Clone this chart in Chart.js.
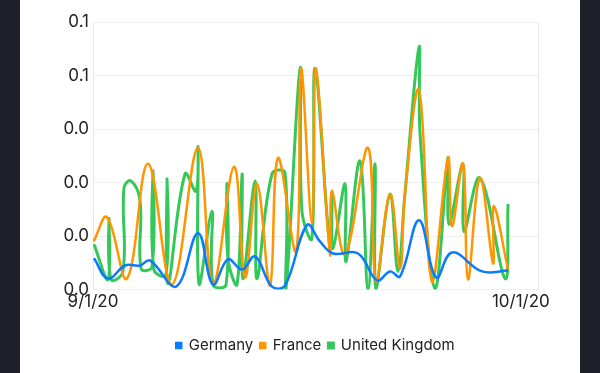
<!DOCTYPE html>
<html>
<head>
<meta charset="utf-8">
<script src="https://cdn.jsdelivr.net/npm/chart.js@4"></script>
<style>
  html, body { margin: 0; padding: 0; background: #1f1f2a; }
  body { width: 600px; height: 373px; overflow: hidden; position: relative; }
  #panel { position: absolute; left: 20px; top: 0; width: 560px; height: 373px; background: #ffffff; }
  #c { display: block; }
</style>
</head>
<body>
<div id="panel"><canvas id="c" width="560" height="373"></canvas></div>
<script>
// ---- data (x = days since 9/1/20) ----
const seriesNames = ["Germany", "France", "United Kingdom"];
const xTickLabels = ["9/1/20", "10/1/20"];
const yTickLabels = ["0.0", "0.0", "0.0", "0.0", "0.1", "0.1"];

const germanyDays = [0.07, 1.05, 2.25, 3.30, 3.99, 5.82, 7.36, 8.41, 9.46, 10.45, 11.36, 12.55, 13.46, 15.01, 15.91, 16.83, 18.58, 19.92, 20.82, 21.53, 22.86, 24.06, 25.17, 27.27, 29.10];
const germanyValues = [0.0117, 0.0041, 0.0090, 0.0090, 0.0109, 0.0011, 0.0211, 0.0019, 0.0113, 0.0075, 0.0124, 0.0011, 0.0015, 0.0241, 0.0180, 0.0135, 0.0135, 0.0034, 0.0068, 0.0049, 0.0259, 0.0045, 0.0139, 0.0068, 0.0071];

const franceDays = [0.05, 0.98, 2.38, 3.86, 5.54, 7.36, 8.41, 9.89, 10.66, 11.50, 12.41, 12.97, 14.24, 14.58, 15.35, 15.63, 16.62, 16.75, 17.67, 19.28, 19.84, 20.82, 21.53, 21.87, 22.86, 23.76, 24.89, 25.17, 25.94, 26.29, 27.13, 28.05, 28.11, 29.10];
const franceValues = [0.0180, 0.0271, 0.0041, 0.0470, 0.0019, 0.0530, 0.0019, 0.0459, 0.0045, 0.0395, 0.0015, 0.0492, 0.0143, 0.0827, 0.0248, 0.0827, 0.0132, 0.0368, 0.0132, 0.0530, 0.0030, 0.0357, 0.0079, 0.0357, 0.0744, 0.0030, 0.0492, 0.0237, 0.0470, 0.0038, 0.0417, 0.0098, 0.0312, 0.0075];

const ukDays = [0.07, 1.05, 1.12, 1.26, 2.10, 2.17, 2.66, 3.30, 3.37, 4.14, 4.21, 4.27, 5.12, 5.19, 5.26, 6.45, 7.22, 7.36, 7.44, 8.34, 8.41, 9.33, 9.39, 9.46, 10.10, 10.45, 10.51, 11.36, 11.50, 12.55, 13.46, 13.53, 14.52, 14.65, 15.35, 15.57, 16.62, 16.75, 16.83, 17.67, 17.74, 18.72, 19.28, 19.77, 19.84, 20.82, 21.38, 21.87, 22.86, 22.93, 23.98, 24.89, 24.96, 25.94, 26.01, 27.13, 28.89, 29.10];
const ukValues = [0.0169, 0.0038, 0.0267, 0.0038, 0.0068, 0.0380, 0.0406, 0.0331, 0.0079, 0.0086, 0.0444, 0.0075, 0.0056, 0.0414, 0.0023, 0.0432, 0.0368, 0.0530, 0.0019, 0.0293, 0.0019, 0.0019, 0.0395, 0.0117, 0.0019, 0.0432, 0.0041, 0.0406, 0.0041, 0.0432, 0.0436, 0.0004, 0.0827, 0.0293, 0.0192, 0.0827, 0.0154, 0.0368, 0.0154, 0.0395, 0.0105, 0.0481, 0.0000, 0.0470, 0.0000, 0.0357, 0.0068, 0.0357, 0.0906, 0.0583, 0.0004, 0.0492, 0.0244, 0.0470, 0.0218, 0.0417, 0.0041, 0.0320];

const seriesColors = ["#0a7aff", "#ff9500", "#34c759"];

function pts(xs, ys) { return xs.map((x, i) => ({ x: x, y: ys[i] })); }

const FONT = "Inter, 'Liberation Sans', sans-serif";
Chart.defaults.font.family = FONT;
Chart.defaults.color = "#222";

// center the legend under the plot area
const centerLegend = {
  id: "centerLegend",
  afterLayout(chart) {
    const lg = chart.legend, ca = chart.chartArea;
    if (!lg) return;
    lg.left = ca.left; lg.right = ca.right; lg.width = ca.right - ca.left;
  }
};

new Chart(document.getElementById("c"), {
  type: "line",
  data: {
    datasets: [
      { label: seriesNames[0], data: pts(germanyDays, germanyValues), borderColor: seriesColors[0], backgroundColor: seriesColors[0], borderWidth: 2.5 },
      { label: seriesNames[1], data: pts(franceDays, franceValues), borderColor: seriesColors[1], backgroundColor: seriesColors[1], borderWidth: 2.5 },
      { label: seriesNames[2], data: pts(ukDays, ukValues), borderColor: seriesColors[2], backgroundColor: seriesColors[2], borderWidth: 3 }
    ]
  },
  plugins: [centerLegend],
  options: {
    responsive: false,
    animation: false,
    elements: { line: { tension: 0.4 }, point: { radius: 0 } },
    layout: { padding: { left: 0, right: 42, top: 22, bottom: 10 } },
    plugins: {
      tooltip: { enabled: false },
      legend: {
        position: "bottom",
        labels: { boxWidth: 5, boxHeight: 5, padding: 7, color: "#222", font: { size: 15, family: FONT } }
      }
    },
    scales: {
      x: {
        type: "linear",
        min: 0, max: 31.2,
        afterBuildTicks: (s) => { s.ticks = [{ value: 0 }, { value: 30 }, { value: 31.2 }]; },
        afterFit: (s) => { s.height += 17; },
        ticks: {
          autoSkip: false, maxRotation: 0, padding: 2,
          color: "#222", font: { size: 17, family: FONT },
          callback: (v) => (v === 0 ? xTickLabels[0] : (v === 30 ? xTickLabels[1] : ""))
        },
        grid: {
          color: (c) => (c.tick && c.tick.value === 30 ? "rgba(0,0,0,0)" : "#e4e4e4"),
          drawTicks: false
        },
        border: { display: false }
      },
      y: {
        min: 0, max: 0.1,
        afterFit: (s) => { s.width = 73; },
        ticks: {
          stepSize: 0.02, padding: 4, color: "#222", font: { size: 17, family: FONT },
          callback: (v, i) => yTickLabels[i]
        },
        grid: { color: "#eeeeee", drawTicks: false },
        border: { display: false }
      }
    }
  }
});
</script>
</body>
</html>
